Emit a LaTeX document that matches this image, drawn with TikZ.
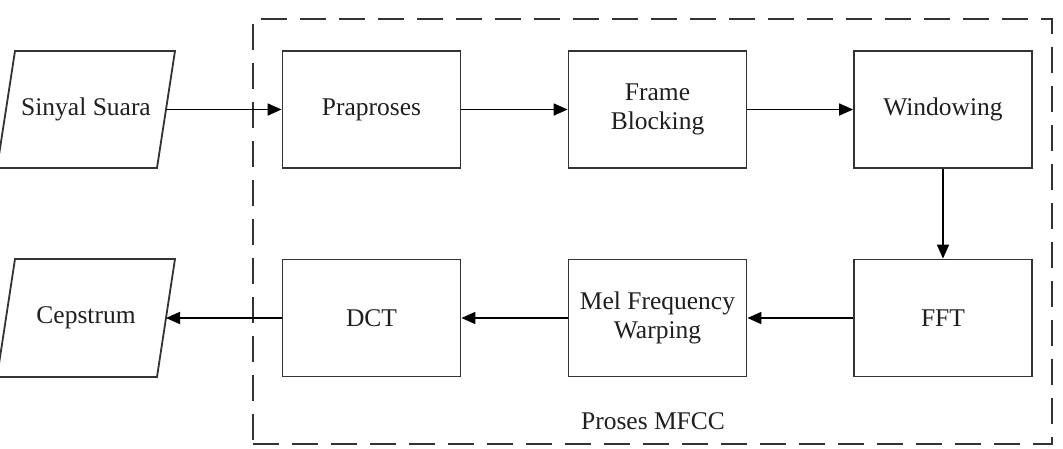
\documentclass[tikz,border=0pt]{standalone}
\usepackage{fontspec}
\setmainfont{Liberation Serif}
\usetikzlibrary{arrows.meta}
\begin{document}
\begin{tikzpicture}[x=1pt,y=-1pt,
  every node/.style={font=\fontsize{25.5}{29}\selectfont, text=black!88},
  proc/.style={draw=black!80, line width=1.8pt, rectangle, minimum width=178pt, minimum height=117pt, inner sep=0pt, align=center},
  iobox/.style={draw=black!80, line width=1.8pt, line join=miter},
  flow/.style={draw=black, line width=1.8pt, -{Triangle[length=14pt,width=12pt]}},
  group/.style={draw=black!80, line width=1.6pt, dash pattern=on 26pt off 13pt}]
\useasboundingbox (0,0) rectangle (1063,448);
\node[group, minimum width=799pt, minimum height=425pt, inner sep=0pt] (mfcc) at (652.5,231.5) {};
% Sinyal Suara (parallelogram)
\node (sin) at (86,109.5) {Sinyal Suara};
\draw[iobox] (15,51) -- (175,51) -- (157,168) -- (-3,168) -- cycle;
\coordinate (sinR) at (166,109.5);
% Cepstrum (parallelogram)
\node (cep) at (86,318) {Cepstrum};
\draw[iobox] (15,259) -- (175,259) -- (157,377) -- (-3,377) -- cycle;
\coordinate (cepR) at (166,318);
\node[proc] (pra) at (371.5,109.5) {Praproses};
\node[proc] (fb) at (657.5,109.5) {Frame\\Blocking};
\node[proc] (win) at (943,109.5) {Windowing};
\node[proc] (fft) at (943,318) {FFT};
\node[proc] (mel) at (657.5,318) {Mel Frequency\\Warping};
\node[proc] (dct) at (371.5,318) {DCT};
\node (lbl) at (653,421) {Proses MFCC};
\draw[flow] (sinR) -- (pra.west);
\draw[flow] (pra) -- (fb);
\draw[flow] (fb) -- (win);
\draw[flow] (win) -- (fft);
\draw[flow] (fft) -- (mel);
\draw[flow] (mel) -- (dct);
\draw[flow] (dct.west) -- (cepR);
\end{tikzpicture}
\end{document}
